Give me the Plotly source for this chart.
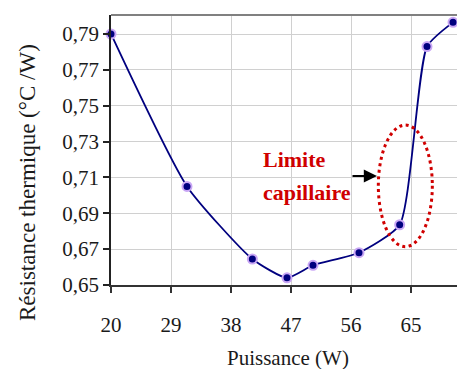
import plotly.graph_objects as go

# Data
puissance = [20, 31.4, 41.2, 46.4, 50.3, 57.2, 63.3, 67.4, 71.3]
resistance = [0.790, 0.705, 0.6645, 0.654, 0.661, 0.668, 0.6836, 0.783, 0.7965]

x_ticks = [20, 29, 38, 47, 56, 65]
y_ticks = [0.65, 0.67, 0.69, 0.71, 0.73, 0.75, 0.77, 0.79]

FONT = "Liberation Serif"
NAVY = "#00007F"
RED = "#D00000"

fig = go.Figure()
fig.add_trace(go.Scatter(
    x=puissance, y=resistance, mode="lines+markers",
    line=dict(color=NAVY, width=1.8, shape="spline", smoothing=0.55),
    marker=dict(color=NAVY, size=9, line=dict(color="#C9A6F5", width=2)),
    cliponaxis=False,
    showlegend=False, hoverinfo="skip",
))

# page body has an 8px margin: compensate in figure size / margins
fig.update_layout(
    width=457, height=361,
    margin=dict(l=103, r=0, t=7, b=84),
    paper_bgcolor="white", plot_bgcolor="white",
    separators=", ",
    font=dict(family=FONT, size=21, color="#1a1a1a"),
    xaxis=dict(
        range=[20, 73.1], tickvals=x_ticks, ticktext=[str(v) for v in x_ticks],
        showgrid=True, gridcolor="#D0D0D0", gridwidth=1.2,
        showline=True, linecolor="#333333", linewidth=2,
        ticks="outside", ticklen=6, tickcolor="#333333", tickwidth=1.5,
        ticklabelstandoff=14, zeroline=False,
        tickfont=dict(family=FONT, size=21, color="#1a1a1a"),
    ),
    yaxis=dict(
        range=[0.65, 0.8006], tickvals=y_ticks,
        ticktext=[f"{v:.2f}".replace(".", ",") for v in y_ticks],
        showgrid=True, gridcolor="#D0D0D0", gridwidth=1.2,
        showline=True, linecolor="#222222", linewidth=1.5,
        ticks="outside", ticklen=6, tickcolor="#222222", tickwidth=1.5,
        zeroline=False,
        tickfont=dict(family=FONT, size=21, color="#1a1a1a"),
    ),
    shapes=[
        dict(type="line", xref="paper", yref="paper", x0=0, x1=1, y0=1, y1=1,
             line=dict(color="#808080", width=2)),
        dict(type="circle", xref="x", yref="y", x0=60.1, x1=68.2, y0=0.6714, y1=0.7392,
             line=dict(color=RED, width=3, dash="3px,3.5px")),
    ],
    annotations=[
        dict(text="Limite", x=42.55, y=0.7199, xref="x", yref="y", xanchor="left",
             yanchor="middle", showarrow=False,
             font=dict(family=FONT, size=22, color=RED, weight="bold")),
        dict(text="capillaire", x=42.55, y=0.7015, xref="x", yref="y", xanchor="left",
             yanchor="middle", showarrow=False,
             font=dict(family=FONT, size=22, color=RED, weight="bold")),
        dict(text="", x=59.9, y=0.7108, xref="x", yref="y", showarrow=True,
             ax=-26, ay=0, arrowhead=2, arrowsize=1.2, arrowwidth=2.2, arrowcolor="black"),
        dict(text="Résistance thermique (°C /W)", textangle=-90, xref="paper", yref="paper",
             x=-0.2345, y=0.3815, xanchor="center", yanchor="middle", showarrow=False,
             font=dict(family=FONT, size=23, color="#1a1a1a")),
        dict(text="Puissance (W)", xref="paper", yref="paper", x=0.4986, y=-0.27,
             xanchor="center", yanchor="middle", showarrow=False,
             font=dict(family=FONT, size=21, color="#1a1a1a")),
    ],
)

fig.write_html("out.html")
